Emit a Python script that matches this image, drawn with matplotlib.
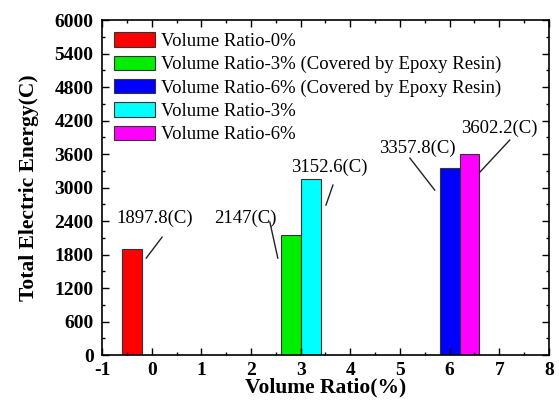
import matplotlib
matplotlib.use("Agg")
import matplotlib.pyplot as plt
from matplotlib.ticker import MultipleLocator

labels = ["Volume Ratio-0%",
          "Volume Ratio-3% (Covered by Epoxy Resin)",
          "Volume Ratio-6% (Covered by Epoxy Resin)",
          "Volume Ratio-3%",
          "Volume Ratio-6%"]
positions = [-0.4, 2.8, 6.0, 3.2, 6.4]
values = [1897.8, 2147.0, 3357.8, 3152.6, 3602.2]
colors = ["#ff0000", "#00ee00", "#0000ff", "#00ffff", "#ff00ff"]
ann_text = ["1897.8(C)", "2147(C)", "3357.8(C)", "3152.6(C)", "3602.2(C)"]
ann_textpos = [(0.07, 2454), (1.88, 2454), (5.36, 3707), (3.57, 3367), (7.01, 4066)]
ann_start = [(0.21, 2113), (2.38, 2382), (5.2, 3528), (3.65, 3045), (7.21, 3851)]
ann_end = [(-0.11, 1737), (2.54, 1737), (5.70, 2955), (3.51, 2687), (6.61, 3278)]

plt.rcParams['font.family'] = ['Liberation Serif', 'DejaVu Serif']
plt.rcParams['axes.unicode_minus'] = False

fig = plt.figure(figsize=(5.59, 4.03), dpi=100)
ax = fig.add_axes([0.1825, 0.119, 0.7995, 0.831])

for p, v, c, l in zip(positions, values, colors, labels):
    ax.bar(p, v, width=0.4, color=c, edgecolor="#333333", linewidth=0.8, label=l)

for t, tp, s, e in zip(ann_text, ann_textpos, ann_start, ann_end):
    ax.text(tp[0], tp[1], t, ha='center', va='center', fontsize=13.5)
    ax.plot([s[0], e[0]], [s[1], e[1]], color='#222222', lw=1.0)

ax.set_xlim(-1, 8)
ax.set_ylim(0, 6000)
ax.xaxis.set_major_locator(MultipleLocator(1))
ax.xaxis.set_minor_locator(MultipleLocator(0.5))
ax.yaxis.set_major_locator(MultipleLocator(600))
ax.yaxis.set_minor_locator(MultipleLocator(300))
ax.tick_params(which='both', direction='in', top=True, right=True, labelsize=14)
ax.tick_params(which='major', length=5, width=1)
ax.tick_params(which='minor', length=2.5, width=1)
ax.tick_params(axis='y', pad=6)
ax.tick_params(axis='x', pad=5)
for lab in ax.get_xticklabels() + ax.get_yticklabels():
    lab.set_fontweight('bold')
for sp in ax.spines.values():
    sp.set_linewidth(1.2)

ax.set_xlabel("Volume Ratio(%)", fontsize=15.5, fontweight='bold', labelpad=-1)
ax.set_ylabel("Total Electric Energy(C)", fontsize=15.5, fontweight='bold', labelpad=11)

ax.legend(loc='upper left', frameon=False, fontsize=13.5, handlelength=2.2,
          handleheight=0.8, handletextpad=0.3, labelspacing=0.3,
          borderaxespad=0.35, borderpad=0.3)

fig.savefig("out.png", dpi=100)
